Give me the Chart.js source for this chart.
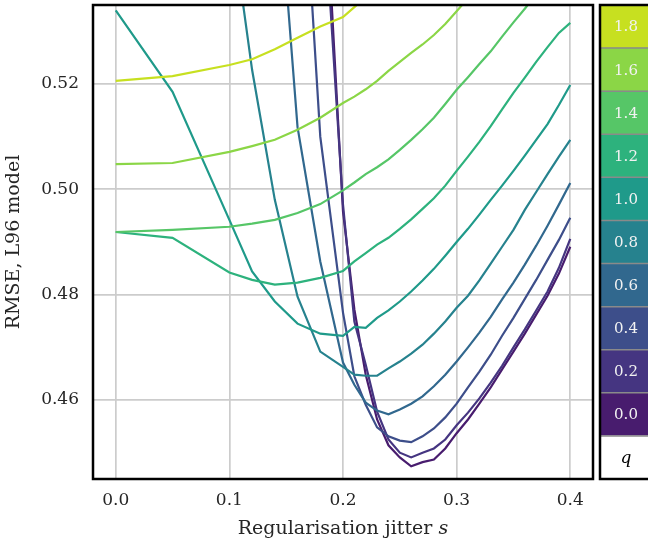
<!DOCTYPE html>
<html>
<head>
<meta charset="utf-8">
<script src="https://cdn.jsdelivr.net/npm/chart.js@4/dist/chart.umd.min.js"></script>
<style>
  body { margin: 0; background: #fff; }
  #wrap { position: relative; width: 648px; height: 543px; overflow: hidden; }
  #main { position: absolute; left: 0; top: 0; }
  #cbar { position: absolute; left: 597px; top: 2px; }
</style>
</head>
<body>
<div id="wrap">
  <canvas id="main" width="648" height="543"></canvas>
  <canvas id="cbar" width="51" height="480"></canvas>
</div>
<script>
// regularisation jitter s (x values)
let sVals = [0, 0.05, 0.1, 0.12, 0.14, 0.16, 0.18, 0.2, 0.21, 0.22, 0.23, 0.24, 0.25, 0.26,
  0.27, 0.28, 0.29, 0.3, 0.31, 0.32, 0.33, 0.34, 0.35, 0.36, 0.37, 0.38, 0.39, 0.4];
let qVals = ["0.0", "0.2", "0.4", "0.6", "0.8", "1.0", "1.2", "1.4", "1.6", "1.8"];
let xTicks = [0, 0.1, 0.2, 0.3, 0.4];
let yTicks = [0.46, 0.48, 0.5, 0.52];

// RMSE for each q (null = not drawn)
let rmse_q00 = [null, null, null, null, null, null, 0.575, 0.4958, 0.4772, 0.4648, 0.4563, 0.4514, 0.4491, 0.4474,
  0.4482, 0.4487, 0.4508, 0.4537, 0.4563, 0.4593, 0.4624, 0.4658, 0.4692, 0.4726, 0.4762, 0.4798, 0.4840, 0.4891];
let rmse_q02 = [null, null, null, null, null, null, 0.565, 0.4971, 0.4749, 0.4667, 0.4578, 0.4525, 0.4500, 0.4491,
  0.4500, 0.4508, 0.4525, 0.4552, 0.4576, 0.4603, 0.4633, 0.4665, 0.4700, 0.4734, 0.4770, 0.4806, 0.4851, 0.4906];
let rmse_q04 = [null, null, null, null, null, 0.58, 0.5100, 0.4766, 0.4645, 0.4591, 0.4548, 0.4531, 0.4523, 0.4520,
  0.4531, 0.4546, 0.4567, 0.4593, 0.4624, 0.4654, 0.4686, 0.4722, 0.4756, 0.4792, 0.4828, 0.4866, 0.4904, 0.4946];
let rmse_q06 = [null, null, null, null, 0.5672, 0.5118, 0.4863, 0.4671, 0.4629, 0.4595, 0.4580, 0.4573, 0.4582, 0.4593,
  0.4607, 0.4626, 0.4648, 0.4673, 0.4700, 0.4728, 0.4758, 0.4791, 0.4823, 0.4857, 0.4893, 0.4931, 0.4971, 0.5012];
let rmse_q08 = [null, null, 0.5541, 0.5227, 0.4980, 0.4796, 0.4692, 0.4663, 0.4648, 0.4646, 0.4646, 0.4660, 0.4673, 0.4688,
  0.4705, 0.4726, 0.4749, 0.4775, 0.4798, 0.4827, 0.4859, 0.4891, 0.4923, 0.4961, 0.4995, 0.5029, 0.5062, 0.5094];
let rmse_q10 = [0.5340, 0.5185, 0.4942, 0.4844, 0.4787, 0.4745, 0.4726, 0.4722, 0.4739, 0.4737, 0.4756, 0.4770, 0.4787, 0.4806,
  0.4827, 0.4849, 0.4874, 0.4900, 0.4925, 0.4952, 0.4980, 0.5007, 0.5035, 0.5064, 0.5094, 0.5124, 0.5160, 0.5198];
let rmse_q12 = [0.4919, 0.4908, 0.4842, 0.4828, 0.4819, 0.4823, 0.4832, 0.4845, 0.4863, 0.4879, 0.4895, 0.4908, 0.4925, 0.4943,
  0.4963, 0.4983, 0.5007, 0.5035, 0.5062, 0.5090, 0.5120, 0.5152, 0.5183, 0.5212, 0.5242, 0.5270, 0.5297, 0.5316];
let rmse_q14 = [0.4919, 0.4923, 0.4929, 0.4935, 0.4942, 0.4955, 0.4972, 0.4998, 0.5013, 0.5029, 0.5042, 0.5057, 0.5075, 0.5094,
  0.5114, 0.5136, 0.5162, 0.5189, 0.5213, 0.5238, 0.5262, 0.5290, 0.5317, 0.5343, 0.5370, 0.5396, null, null];
let rmse_q16 = [0.5048, 0.5050, 0.5071, 0.5082, 0.5094, 0.5113, 0.5136, 0.5164, 0.5176, 0.5190, 0.5206, 0.5225, 0.5242, 0.5259,
  0.5275, 0.5293, 0.5314, 0.5338, 0.5363, 0.5390, null, null, null, null, null, null, null, null];
let rmse_q18 = [0.5206, 0.5215, 0.5236, 0.5247, 0.5266, 0.5288, 0.5309, 0.5327, 0.5346, 0.5365, 0.5385, null, null, null,
  null, null, null, null, null, null, null, null, null, null, null, null, null, null];

let allSeries = [rmse_q00, rmse_q02, rmse_q04, rmse_q06, rmse_q08, rmse_q10, rmse_q12, rmse_q14, rmse_q16, rmse_q18];
// viridis samples, one per q
let lineColors = ["#481c6e", "#453581", "#3d4e8a", "#31688e", "#26828e",
  "#1f9a8a", "#2db27d", "#56c667", "#8bd646", "#c7e020"];

const SERIF = "'DejaVu Serif', serif";
const TXT = "#262626";

const framePlugin = {
  id: "frame",
  afterDraw(chart) {
    const a = chart.chartArea, ctx = chart.ctx;
    ctx.save();
    ctx.strokeStyle = "#000";
    ctx.lineWidth = 2.5;
    ctx.strokeRect(a.left, a.top, a.right - a.left, a.bottom - a.top);
    ctx.restore();
  }
};

let datasets = allSeries.map((arr, i) => ({
  label: "q = " + qVals[i],
  data: sVals.map((s, j) => ({ x: s, y: arr[j] })),
  borderColor: lineColors[i],
  borderWidth: 2.2,
  pointRadius: 0,
  tension: 0,
  clip: 0,
  order: allSeries.length - i,
}));

new Chart(document.getElementById("main"), {
  type: "line",
  data: { datasets: datasets },
  options: {
    responsive: false,
    animation: false,
    layout: { padding: { top: 5, right: 55, left: 0, bottom: 0 } },
    plugins: { legend: { display: false }, tooltip: { enabled: false } },
    scales: {
      x: {
        type: "linear",
        min: -0.02,
        max: 0.42,
        afterBuildTicks: (ax) => { ax.ticks = xTicks.map((v) => ({ value: v })); },
        afterFit: (ax) => { ax.height = 64; ax.paddingLeft = 0; ax.paddingRight = 0; },
        grid: { color: "#cccccc", lineWidth: 1.7, drawTicks: false },
        border: { display: false },
        ticks: {
          padding: 11,
          color: TXT,
          font: { family: SERIF, size: 17 },
          callback: (v) => v.toFixed(1),
        },
        title: {
          display: true,
          text: "Regularisation jitter 𝑠",
          color: TXT,
          font: { family: SERIF, size: 19 },
          padding: { top: 1, bottom: 3 },
        },
      },
      y: {
        min: 0.445,
        max: 0.535,
        afterBuildTicks: (ax) => { ax.ticks = yTicks.map((v) => ({ value: v })); },
        afterFit: (ax) => { ax.width = 93; ax.paddingTop = 0; ax.paddingBottom = 0; },
        grid: { color: "#cccccc", lineWidth: 1.7, drawTicks: false },
        border: { display: false },
        ticks: {
          padding: 14,
          color: TXT,
          font: { family: SERIF, size: 17 },
          callback: (v) => v.toFixed(2),
        },
        title: {
          display: true,
          text: "RMSE, L96 model",
          color: TXT,
          font: { family: SERIF, size: 19 },
          padding: { top: 3, bottom: 0 },
        },
      },
    },
  },
  plugins: [framePlugin],
});

// colour bar: one stacked bar, bottom cell is the "q" label cell
let cbarLabels = ["q"].concat(qVals);
let cbarColors = ["#ffffff"].concat(lineColors);

const cbarPlugin = {
  id: "cbarText",
  afterDraw(chart) {
    const ctx = chart.ctx, a = chart.chartArea;
    ctx.save();
    ctx.textAlign = "center";
    ctx.textBaseline = "middle";
    chart.data.datasets.forEach((ds, i) => {
      const bar = chart.getDatasetMeta(i).data[0];
      const yc = (bar.y + bar.base) / 2;
      if (i > 0) {
        ctx.strokeStyle = "#8a8a8a";
        ctx.lineWidth = 1.5;
        ctx.beginPath();
        ctx.moveTo(a.left, bar.base);
        ctx.lineTo(a.right + 5, bar.base);
        ctx.stroke();
        ctx.fillStyle = "#f2f2f2";
        ctx.font = "15px " + SERIF;
      } else {
        ctx.fillStyle = "#000";
        ctx.font = "italic 17px " + SERIF;
      }
      ctx.fillText(ds.label, (a.left + a.right) / 2 + 2, yc + 1);
    });
    ctx.strokeStyle = "#000";
    ctx.lineWidth = 2.5;
    ctx.strokeRect(a.left, a.top, a.right - a.left + 10, a.bottom - a.top);
    ctx.restore();
  }
};

new Chart(document.getElementById("cbar"), {
  type: "bar",
  data: {
    labels: ["q"],
    datasets: cbarLabels.map((lab, i) => ({
      label: lab,
      data: [1],
      backgroundColor: cbarColors[i],
      barPercentage: 1,
      categoryPercentage: 1,
    })),
  },
  options: {
    responsive: false,
    animation: false,
    layout: { padding: { top: 3, left: 3, right: 0, bottom: 3 } },
    plugins: { legend: { display: false }, tooltip: { enabled: false } },
    scales: {
      x: { stacked: true, display: false },
      y: { stacked: true, display: false, min: 0, max: cbarLabels.length },
    },
  },
  plugins: [cbarPlugin],
});
</script>
</body>
</html>
